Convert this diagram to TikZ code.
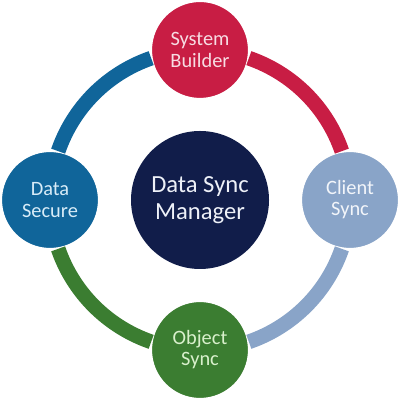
\documentclass[tikz,border=0pt]{standalone}
\usepackage{fontspec}
\setmainfont{Carlito}
\usepackage{tikz}
\usetikzlibrary{positioning}
\definecolor{red600}  {HTML}{C81D44}
\definecolor{red100}  {HTML}{F7DCE3}
\definecolor{sky400}  {HTML}{89A4C8}
\definecolor{sky100}  {HTML}{F2F5FA}
\definecolor{blue600} {HTML}{10659A}
\definecolor{blue100} {HTML}{D8ECF8}
\definecolor{green600}{HTML}{3B7D31}
\definecolor{green100}{HTML}{D9F0CC}
\definecolor{navy900} {HTML}{111D4A}
\definecolor{navy100} {HTML}{EEF1F8}
\tikzset{
  hub/.style  ={circle, fill=navy900, text=navy100, minimum size=3.45cm,
                inner sep=0pt, align=center,
                font=\fontsize{17.5}{19.5}\selectfont},
  sat/.style  ={circle, draw=white, line width=1.5pt, minimum size=2.45cm,
                inner sep=0pt, align=center,
                font=\fontsize{14.5}{15}\selectfont},
  ring/.style ={line width=0.37cm}
}
\begin{document}
\begin{tikzpicture}
\useasboundingbox (0,0) rectangle (10,10);
\node[hub] (dsm) at (5,5) {Data Sync\\Manager};
\node[sat, fill=red600, text=red100]     (sb) at (5,8.75) {System\\Builder};
\node[sat, fill=sky400, text=sky100]     (cs) at (8.75,5) {Client\\Sync};
\node[sat, fill=green600, text=green100] (os) at (5,1.25) {Object\\Sync};
\node[sat, fill=blue600, text=blue100]   (ds) at (1.25,5) {Data\\Secure};
% each ring piece leaves its own circle and runs clockwise to the next one
\foreach \s/\c in {71/red600, -19/sky400, -109/green600, 161/blue600}
  \draw[ring, draw=\c] ([shift={(\s:3.75)}]dsm.center)
    arc[start angle=\s, end angle=\s-52, radius=3.75];
\end{tikzpicture}
\end{document}
